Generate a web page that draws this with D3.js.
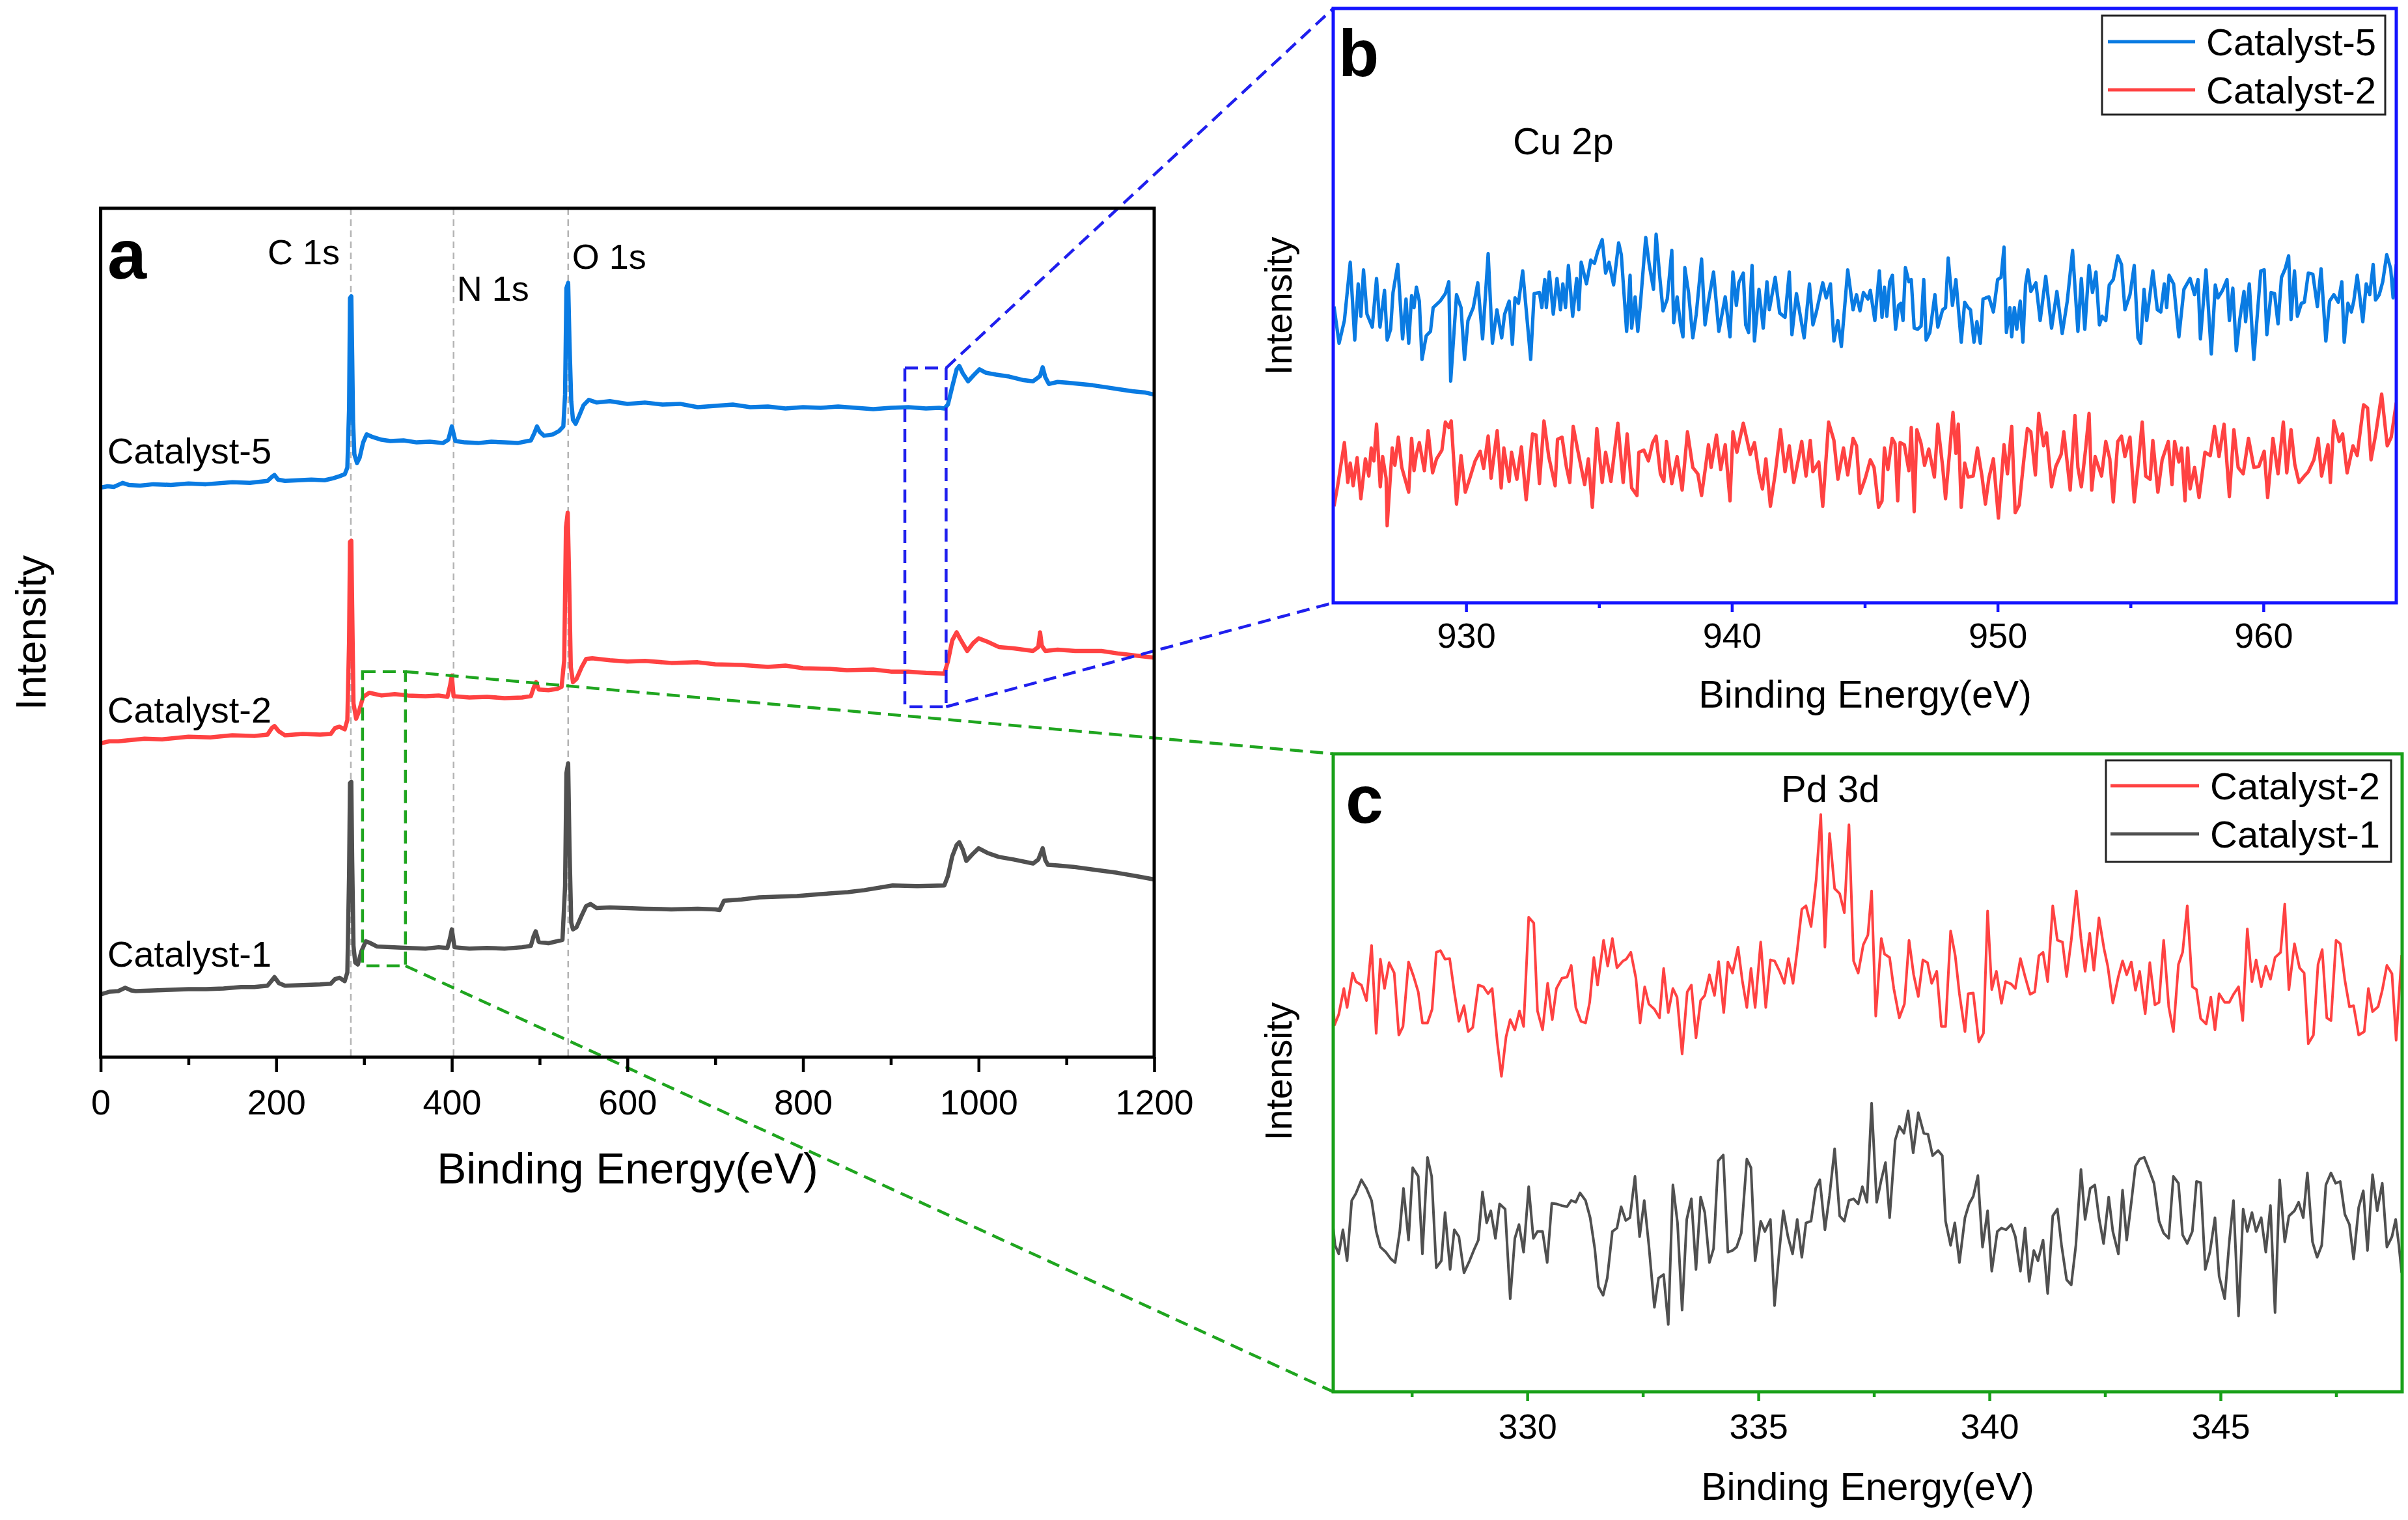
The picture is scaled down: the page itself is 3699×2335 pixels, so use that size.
<!DOCTYPE html>
<html><head><meta charset="utf-8">
<script src="https://cdn.jsdelivr.net/npm/d3@7"></script>
<style>html,body{margin:0;padding:0;background:#fff}svg{display:block}</style>
</head><body>
<svg id="fig" width="3699" height="2335"></svg>
<script>
// ---------------- DATA ----------------
const seriesNames = ["Catalyst-5", "Catalyst-2", "Catalyst-1"];
const surveyTicks = [0, 200, 400, 600, 800, 1000, 1200];
const surveyMinor = [100, 300, 500, 700, 900, 1100];
const cuTicks = [930, 940, 950, 960];
const cuMinor = [935, 945, 955];
const pdTicks = [330, 335, 340, 345];
const pdMinor = [327.5, 332.5, 337.5, 342.5, 347.5];
const peakEnergies = [285, 402, 532.5];
const peakNames = ["C 1s", "N 1s", "O 1s"];
const surveyRange = [0, 1200], surveyI = [702.5, 1980.4];
const cuRange = [925, 965], cuI = [173, 2925.6];
const pdRange = [325.8, 348.93], pdI = [285, 2136];
const cuWindowE = [916, 963], cuWindowI = [1230, 1740];
const pdWindowE = [298.3, 347.2], pdWindowI = [840, 1283];

// survey spectra [binding energy eV, intensity a.u.]
const cat5Survey = [[0,1560],[8,1562],[15,1561],[25,1567],[32,1564],[45,1563],[60,1565],[80,1564],[100,1566],[120,1565],[150,1568],[170,1567],[190,1570],[195,1576],[198,1579],[202,1572],[210,1570],[240,1572],[255,1571],[265,1574],[272,1577],[278,1580],[281,1590],[283,1680],[284,1845],[285.5,1848],[286.5,1760],[287.5,1660],[289,1610],[292,1597],[295,1605],[299,1628],[303,1640],[310,1636],[320,1632],[330,1630],[345,1631],[360,1628],[375,1629],[390,1627],[396,1632],[400,1652],[404,1630],[415,1628],[430,1627],[445,1629],[460,1628],[475,1627],[490,1631],[494,1642],[497,1652],[500,1644],[505,1638],[515,1640],[522,1645],[527,1652],[529,1700],[530.5,1860],[532.5,1868],[534,1780],[536,1690],[538,1662],[541,1656],[545,1668],[550,1684],[556,1692],[565,1688],[580,1690],[600,1686],[620,1688],[640,1685],[660,1686],[680,1681],[700,1683],[720,1685],[740,1681],[760,1682],[780,1679],[800,1681],[820,1680],[840,1682],[860,1680],[880,1678],[900,1680],[920,1681],[940,1679],[955,1680],[961,1679],[965,1685],[970,1712],[975,1738],[978,1743],[982,1732],[988,1720],[995,1730],[1001,1738],[1008,1733],[1020,1730],[1035,1727],[1050,1722],[1062,1720],[1070,1728],[1073,1741],[1076,1726],[1080,1716],[1090,1719],[1100,1718],[1115,1716],[1130,1714],[1145,1711],[1160,1708],[1175,1705],[1190,1703],[1200,1700]];
const cat2Survey = [[0,1175],[10,1178],[20,1178],[35,1180],[50,1182],[70,1181],[100,1185],[125,1184],[150,1187],[175,1186],[190,1188],[195,1198],[198,1201],[203,1193],[210,1187],[230,1189],[250,1188],[262,1189],[267,1198],[272,1200],[278,1196],[281,1210],[283,1330],[284,1478],[285.5,1480],[286.5,1380],[288,1235],[291,1212],[294,1222],[299,1245],[306,1251],[320,1247],[335,1249],[350,1247],[370,1246],[385,1247],[395,1245],[398,1262],[400,1277],[402,1246],[420,1244],[440,1245],[460,1243],[480,1244],[490,1246],[493,1258],[496,1267],[499,1256],[510,1255],[520,1257],[525,1260],[528,1300],[530,1500],[532,1522],[533.5,1430],[535.5,1290],[538,1267],[542,1272],[548,1290],[553,1302],[560,1303],[580,1300],[600,1298],[620,1299],[650,1296],[680,1297],[700,1294],[730,1293],[760,1290],[780,1292],[800,1288],[830,1287],[850,1285],[880,1286],[900,1283],[920,1283],[940,1281],[961,1280],[965,1298],[970,1330],[975,1342],[979,1332],[987,1314],[994,1326],[1000,1333],[1010,1328],[1023,1320],[1040,1318],[1062,1314],[1068,1320],[1070,1342],[1072,1322],[1076,1314],[1090,1316],[1110,1314],[1140,1314],[1160,1310],[1180,1307],[1200,1304]];
const cat1Survey = [[0,797],[10,801],[20,802],[28,807],[35,803],[40,802],[60,803],[80,804],[100,805],[120,805],[140,806],[160,808],[175,808],[190,810],[195,818],[198,823],[203,814],[210,810],[230,811],[250,812],[262,813],[267,820],[272,822],[278,817],[281,830],[283,980],[284,1115],[285.5,1117],[286.5,1000],[288,870],[290,845],[293,842],[297,862],[302,877],[306,875],[315,869],[330,868],[350,867],[370,866],[385,868],[395,867],[398,882],[400,895],[403,868],[420,866],[440,867],[460,866],[480,868],[490,870],[493,884],[495.5,892],[499,876],[510,874],[520,877],[526,879],[529,960],[530.5,1130],[532.5,1145],[534,1020],[536,905],[538,895],[542,898],[548,916],[553,930],[558,933],[565,927],[580,928],[600,927],[620,926],[650,925],[680,926],[700,925],[705,924],[710,938],[730,940],[750,943],[770,944],[793,945],[820,948],[851,951],[870,954],[902,961],[930,960],[961,961],[965,975],[970,1005],[975,1022],[978,1026],[982,1015],[986,998],[993,1008],[1000,1017],[1010,1010],[1023,1004],[1040,1000],[1062,994],[1068,1000],[1073,1017],[1076,999],[1079,992],[1090,991],[1108,989],[1130,985],[1158,980],[1180,975],[1200,970]];

// Cu 2p region
const cat5Cu = [[925.03,1545],[925.22,1375],[925.42,1480],[925.64,1750],[925.81,1390],[925.94,1650],[926.04,1500],[926.14,1715],[926.27,1510],[926.47,1450],[926.63,1675],[926.76,1450],[926.93,1620],[927.03,1390],[927.16,1440],[927.25,1610],[927.43,1740],[927.61,1395],[927.74,1580],[927.84,1375],[927.95,1595],[928.04,1540],[928.13,1635],[928.24,1570],[928.34,1300],[928.50,1410],[928.66,1430],[928.76,1540],[929.02,1570],[929.22,1605],[929.35,1660],[929.42,1200],[929.64,1600],[929.81,1540],[929.94,1300],[930.07,1480],[930.27,1540],[930.44,1655],[930.62,1395],[930.83,1790],[930.99,1375],[931.16,1530],[931.34,1400],[931.45,1510],[931.62,1570],[931.74,1370],[931.84,1585],[931.97,1560],[932.13,1710],[932.43,1300],[932.56,1605],[932.76,1610],[932.85,1540],[932.96,1670],[933.02,1540],[933.13,1705],[933.28,1510],[933.42,1675],[933.55,1530],[933.64,1650],[933.74,1540],[933.85,1735],[934.01,1500],[934.16,1675],[934.24,1530],[934.33,1750],[934.53,1650],[934.69,1760],[934.83,1745],[934.95,1800],[935.12,1855],[935.25,1700],[935.38,1750],[935.55,1645],[935.74,1840],[935.84,1785],[936.04,1430],[936.17,1690],[936.23,1445],[936.36,1590],[936.46,1430],[936.56,1560],[936.76,1865],[936.89,1740],[937.05,1625],[937.15,1880],[937.28,1690],[937.41,1525],[937.57,1580],[937.74,1805],[937.81,1470],[937.94,1590],[938.07,1460],[938.16,1405],[938.23,1725],[938.37,1610],[938.53,1400],[938.66,1510],[938.86,1765],[938.99,1460],[939.12,1570],[939.31,1705],[939.51,1430],[939.75,1590],[939.93,1405],[940.04,1705],[940.17,1550],[940.26,1655],[940.43,1700],[940.52,1460],[940.63,1425],[940.76,1735],[940.85,1385],[941.02,1625],[941.18,1445],[941.32,1660],[941.41,1530],[941.63,1680],[941.80,1515],[942.00,1495],[942.16,1705],[942.26,1415],[942.43,1605],[942.55,1520],[942.72,1400],[942.92,1650],[943.05,1460],[943.18,1520],[943.42,1655],[943.55,1585],[943.71,1650],[943.84,1385],[943.99,1480],[944.12,1360],[944.36,1715],[944.56,1530],[944.69,1600],[944.82,1525],[944.95,1610],[945.12,1580],[945.21,1620],[945.38,1480],[945.55,1710],[945.65,1495],[945.74,1635],[945.83,1500],[945.94,1660],[946.04,1690],[946.16,1440],[946.27,1550],[946.36,1560],[946.44,1480],[946.53,1725],[946.66,1660],[946.75,1670],[946.86,1445],[946.99,1440],[947.12,1455],[947.22,1670],[947.31,1390],[947.45,1425],[947.64,1600],[947.75,1450],[947.93,1530],[948.04,1540],[948.14,1770],[948.30,1550],[948.43,1670],[948.63,1380],[948.76,1565],[948.89,1540],[948.98,1530],[949.11,1380],[949.22,1475],[949.35,1375],[949.45,1580],[949.67,1590],[949.84,1520],[950.00,1670],[950.13,1680],[950.24,1820],[950.33,1425],[950.46,1540],[950.53,1405],[950.63,1540],[950.72,1440],[950.85,1570],[950.95,1380],[951.05,1645],[951.14,1715],[951.25,1615],[951.44,1655],[951.60,1480],[951.81,1685],[952.03,1445],[952.23,1615],[952.43,1420],[952.62,1570],[952.82,1805],[953.02,1430],[953.15,1675],[953.28,1440],[953.44,1735],[953.57,1610],[953.70,1705],[953.83,1460],[953.93,1500],[954.07,1480],[954.20,1645],[954.35,1670],[954.52,1780],[954.66,1740],[954.79,1530],[954.98,1600],[955.14,1735],[955.28,1400],[955.38,1375],[955.51,1625],[955.61,1480],[955.84,1710],[956.01,1530],[956.14,1520],[956.27,1650],[956.36,1540],[956.45,1690],[956.62,1650],[956.82,1405],[957.01,1625],[957.24,1675],[957.41,1600],[957.54,1670],[957.63,1395],[957.84,1715],[958.04,1325],[958.19,1645],[958.29,1585],[958.46,1620],[958.63,1670],[958.72,1480],[958.85,1630],[958.98,1340],[959.11,1485],[959.27,1615],[959.33,1475],[959.47,1650],[959.64,1300],[959.90,1710],[960.03,1715],[960.13,1415],[960.29,1610],[960.42,1605],[960.55,1465],[960.68,1680],[960.82,1720],[960.95,1780],[961.04,1485],[961.17,1710],[961.28,1500],[961.43,1560],[961.54,1565],[961.69,1700],[961.86,1695],[962.03,1545],[962.17,1720],[962.35,1385],[962.49,1570],[962.65,1600],[962.82,1565],[962.95,1660],[963.04,1380],[963.18,1560],[963.31,1520],[963.40,1570],[963.53,1690],[963.74,1475],[963.87,1650],[964.00,1600],[964.13,1740],[964.22,1575],[964.36,1600],[964.49,1660],[964.64,1785],[964.79,1720],[964.88,1585],[965.00,1740]];
const cat2Cu = [[925.03,620],[925.16,710],[925.42,915],[925.55,730],[925.64,820],[925.75,715],[925.90,845],[926.04,655],[926.21,840],[926.34,760],[926.43,890],[926.53,830],[926.63,1000],[926.77,710],[926.86,850],[926.99,750],[927.03,530],[927.22,890],[927.32,810],[927.45,940],[927.58,800],[927.84,685],[927.95,935],[928.04,785],[928.13,860],[928.24,915],[928.43,785],[928.57,970],[928.74,775],[928.89,840],[929.09,880],[929.22,1010],[929.35,985],[929.44,1015],[929.64,630],[929.81,855],[929.97,685],[930.14,750],[930.34,830],[930.53,875],[930.66,795],[930.83,945],[930.94,750],[931.17,970],[931.32,705],[931.42,890],[931.62,735],[931.71,870],[931.91,745],[932.08,895],[932.26,650],[932.50,955],[932.63,950],[932.76,725],[932.93,1015],[933.11,850],[933.35,715],[933.44,930],[933.61,940],[933.77,805],[933.90,730],[934.03,990],[934.20,880],[934.46,720],[934.60,840],[934.75,615],[934.92,980],[935.12,730],[935.25,870],[935.45,735],[935.71,1005],[935.91,730],[936.06,955],[936.23,705],[936.43,670],[936.50,870],[936.69,880],[936.86,830],[937.02,915],[937.15,945],[937.31,770],[937.44,735],[937.54,920],[937.74,725],[937.94,850],[938.13,695],[938.33,965],[938.53,800],[938.72,770],[938.86,670],[938.99,785],[939.12,905],[939.22,800],[939.42,950],[939.58,790],[939.75,905],[939.93,645],[940.04,965],[940.19,870],[940.43,1005],[940.69,860],[940.85,915],[941.02,770],[941.15,700],[941.28,840],[941.45,620],[941.63,770],[941.83,975],[942.00,780],[942.16,900],[942.33,730],[942.46,810],[942.63,920],[942.79,760],[942.95,925],[943.05,780],[943.27,825],[943.42,620],[943.64,1010],[943.84,925],[943.99,745],[944.20,890],[944.36,765],[944.56,935],[944.69,900],[944.82,680],[945.02,750],[945.21,835],[945.35,800],[945.52,615],[945.65,645],[945.74,890],[945.87,790],[946.03,935],[946.14,910],[946.24,645],[946.33,915],[946.49,905],[946.66,785],[946.75,985],[946.86,595],[946.96,975],[947.12,910],[947.25,810],[947.41,885],[947.62,755],[947.75,1000],[947.93,805],[948.04,655],[948.17,840],[948.32,1055],[948.43,865],[948.52,1000],[948.63,615],[948.76,820],[948.89,755],[949.08,760],[949.24,890],[949.41,760],[949.54,630],[949.67,750],[949.84,840],[950.03,565],[950.24,905],[950.37,770],[950.53,990],[950.66,590],[950.81,625],[950.99,840],[951.12,980],[951.25,965],[951.42,765],[951.55,1050],[951.73,900],[951.84,960],[952.03,710],[952.19,805],[952.39,860],[952.49,965],[952.73,695],[952.91,1040],[953.02,800],[953.15,710],[953.31,885],[953.44,1050],[953.54,695],[953.67,850],[953.91,760],[954.07,920],[954.22,840],[954.35,640],[954.52,920],[954.66,945],[954.79,850],[954.98,940],[955.14,640],[955.31,840],[955.44,1010],[955.57,760],[955.74,745],[955.84,925],[956.03,685],[956.19,835],[956.42,920],[956.56,720],[956.66,920],[956.82,825],[956.92,890],[957.05,645],[957.15,890],[957.24,700],[957.41,800],[957.58,660],[957.80,870],[958.00,855],[958.16,990],[958.33,850],[958.52,1000],[958.72,665],[958.89,975],[959.05,800],[959.24,770],[959.44,935],[959.64,800],[959.83,805],[960.03,875],[960.16,660],[960.36,935],[960.55,770],[960.75,1010],[960.88,775],[961.04,975],[961.18,815],[961.34,730],[961.54,760],[961.69,780],[961.90,835],[962.06,935],[962.19,760],[962.43,905],[962.52,730],[962.65,1015],[962.85,920],[962.98,955],[963.15,775],[963.37,900],[963.53,855],[963.77,1090],[963.92,1075],[964.05,835],[964.22,950],[964.45,1140],[964.66,900],[964.81,940],[965.00,1100]];

// Pd 3d region
const cat2Pd = [[325.80,1400],[325.83,1350],[325.92,1380],[326.03,1455],[326.10,1400],[326.22,1500],[326.29,1475],[326.41,1465],[326.52,1420],[326.63,1580],[326.73,1325],[326.82,1540],[326.91,1455],[327.01,1530],[327.12,1500],[327.22,1320],[327.31,1345],[327.43,1532],[327.54,1490],[327.64,1445],[327.73,1355],[327.84,1355],[327.94,1395],[328.03,1560],[328.12,1565],[328.22,1540],[328.32,1542],[328.42,1445],[328.52,1360],[328.63,1405],[328.72,1330],[328.82,1342],[328.94,1465],[329.05,1460],[329.15,1440],[329.24,1455],[329.35,1300],[329.44,1200],[329.54,1315],[329.63,1365],[329.73,1335],[329.83,1390],[329.92,1345],[330.03,1662],[330.14,1645],[330.22,1390],[330.33,1335],[330.44,1470],[330.54,1365],[330.63,1455],[330.75,1485],[330.86,1488],[330.95,1522],[331.05,1400],[331.16,1360],[331.26,1355],[331.35,1415],[331.44,1545],[331.52,1465],[331.65,1595],[331.74,1520],[331.84,1600],[331.94,1515],[332.07,1535],[332.14,1540],[332.24,1560],[332.35,1485],[332.44,1355],[332.54,1460],[332.63,1410],[332.75,1395],[332.86,1370],[332.95,1513],[333.05,1385],[333.15,1455],[333.24,1430],[333.35,1265],[333.46,1445],[333.55,1465],[333.65,1312],[333.75,1420],[333.84,1435],[333.94,1495],[334.05,1435],[334.14,1533],[334.25,1385],[334.34,1532],[334.44,1500],[334.56,1575],[334.65,1480],[334.75,1400],[334.84,1513],[334.93,1400],[335.05,1590],[335.16,1400],[335.26,1538],[335.35,1535],[335.46,1505],[335.56,1470],[335.65,1542],[335.75,1470],[335.84,1565],[335.94,1685],[336.03,1695],[336.14,1635],[336.25,1770],[336.35,1960],[336.44,1575],[336.54,1905],[336.65,1745],[336.76,1730],[336.86,1675],[336.96,1930],[337.06,1535],[337.16,1500],[337.27,1582],[337.37,1610],[337.45,1738],[337.54,1375],[337.66,1600],[337.73,1555],[337.84,1545],[337.93,1455],[338.05,1370],[338.16,1410],[338.26,1595],[338.36,1495],[338.46,1432],[338.56,1538],[338.66,1530],[338.75,1470],[338.86,1505],[338.96,1345],[339.05,1345],[339.16,1622],[339.26,1550],[339.35,1440],[339.47,1330],[339.54,1440],[339.65,1442],[339.77,1300],[339.87,1325],[339.96,1680],[340.05,1452],[340.15,1505],[340.26,1412],[340.35,1475],[340.47,1468],[340.56,1455],[340.67,1542],[340.77,1490],[340.88,1438],[340.98,1445],[341.07,1550],[341.16,1560],[341.26,1475],[341.37,1695],[341.47,1595],[341.58,1590],[341.67,1490],[341.77,1595],[341.88,1738],[341.98,1600],[342.07,1505],[342.17,1615],[342.26,1508],[342.37,1660],[342.48,1570],[342.56,1520],[342.67,1413],[342.79,1490],[342.88,1535],[342.97,1495],[343.07,1532],[343.16,1450],[343.25,1505],[343.37,1382],[343.47,1530],[343.58,1408],[343.67,1415],[343.77,1595],[343.88,1402],[343.98,1330],[344.09,1525],[344.18,1560],[344.28,1695],[344.39,1460],[344.48,1452],[344.57,1368],[344.69,1352],[344.79,1430],[344.88,1335],[344.97,1440],[345.09,1415],[345.19,1415],[345.28,1438],[345.39,1460],[345.48,1362],[345.58,1628],[345.68,1475],[345.77,1538],[345.88,1460],[345.98,1520],[346.08,1482],[346.18,1545],[346.30,1560],[346.39,1700],[346.48,1452],[346.60,1585],[346.71,1515],[346.81,1500],[346.90,1295],[347.01,1320],[347.11,1525],[347.20,1568],[347.30,1370],[347.39,1362],[347.50,1595],[347.59,1585],[347.69,1480],[347.79,1402],[347.88,1405],[347.99,1320],[348.11,1330],[348.20,1455],[348.29,1388],[348.41,1402],[348.50,1450],[348.60,1522],[348.71,1498],[348.80,1305],[348.92,1552]];
const cat1Pd = [[325.80,760],[325.84,710],[325.92,685],[326.01,755],[326.10,665],[326.20,840],[326.29,860],[326.41,900],[326.52,875],[326.63,840],[326.73,750],[326.82,705],[326.94,690],[327.05,670],[327.14,660],[327.24,750],[327.32,875],[327.43,725],[327.52,935],[327.64,910],[327.73,685],[327.84,965],[327.93,910],[328.03,645],[328.14,665],[328.22,805],[328.33,640],[328.42,755],[328.52,735],[328.63,630],[328.75,665],[328.84,695],[328.94,725],[329.03,865],[329.12,775],[329.21,810],[329.31,730],[329.40,830],[329.52,815],[329.63,555],[329.73,730],[329.82,770],[329.92,690],[330.03,880],[330.13,730],[330.22,750],[330.33,750],[330.43,660],[330.53,832],[330.63,830],[330.75,825],[330.86,822],[330.95,840],[331.05,835],[331.14,862],[331.26,840],[331.36,790],[331.46,700],[331.54,590],[331.64,565],[331.73,615],[331.84,750],[331.94,760],[332.03,822],[332.13,782],[332.22,790],[332.33,910],[332.43,735],[332.53,840],[332.63,710],[332.75,530],[332.84,615],[332.95,625],[333.05,480],[333.15,885],[333.25,775],[333.35,522],[333.45,785],[333.55,845],[333.65,640],[333.75,850],[333.84,805],[333.94,660],[334.03,700],[334.13,955],[334.24,972],[334.34,690],[334.44,695],[334.53,705],[334.63,745],[334.75,960],[334.84,935],[334.93,665],[335.05,780],[335.14,750],[335.26,785],[335.35,535],[335.45,690],[335.54,810],[335.64,735],[335.74,685],[335.84,785],[335.94,675],[336.03,775],[336.14,780],[336.24,875],[336.33,900],[336.44,755],[336.54,855],[336.65,990],[336.76,795],[336.86,780],[336.96,840],[337.06,845],[337.16,830],[337.25,880],[337.35,835],[337.45,1122],[337.56,835],[337.66,900],[337.75,950],[337.84,790],[337.96,1015],[338.05,1055],[338.15,1035],[338.24,1100],[338.35,978],[338.46,1095],[338.58,1035],[338.67,1032],[338.77,970],[338.89,985],[338.98,970],[339.05,780],[339.16,710],[339.25,775],[339.35,660],[339.47,790],[339.56,830],[339.65,852],[339.75,912],[339.85,705],[339.96,810],[340.05,635],[340.17,750],[340.26,760],[340.36,755],[340.47,770],[340.56,735],[340.67,635],[340.77,760],[340.86,605],[340.96,695],[341.05,665],[341.16,725],[341.26,570],[341.37,795],[341.47,815],[341.56,710],[341.67,610],[341.77,595],[341.87,710],[341.98,930],[342.07,785],[342.18,875],[342.28,885],[342.37,790],[342.47,715],[342.58,850],[342.67,750],[342.79,685],[342.88,870],[342.97,725],[343.07,835],[343.16,940],[343.25,960],[343.35,965],[343.45,930],[343.56,890],[343.67,780],[343.77,745],[343.88,730],[343.98,910],[344.09,890],[344.18,740],[344.28,715],[344.39,750],[344.48,895],[344.57,892],[344.67,640],[344.77,690],[344.88,790],[344.97,620],[345.09,555],[345.19,720],[345.28,840],[345.39,505],[345.49,815],[345.58,750],[345.68,805],[345.77,750],[345.88,790],[345.98,690],[346.08,825],[346.18,515],[346.28,900],[346.39,720],[346.48,795],[346.60,810],[346.69,835],[346.79,790],[346.88,920],[346.99,720],[347.09,675],[347.19,710],[347.28,885],[347.39,920],[347.49,890],[347.59,895],[347.69,800],[347.79,770],[347.88,670],[347.99,820],[348.09,868],[348.18,695],[348.29,915],[348.39,810],[348.50,890],[348.60,705],[348.71,735],[348.79,785],[348.86,710],[348.92,630]];

// ---------------- DRAWING ----------------
const FONT = "'Liberation Sans', Arial, Helvetica, sans-serif";
const C_BLUE = "#0a7be2", C_RED = "#ff4242", C_GRAY = "#505050";
const FRAME_B = "#1414ff", FRAME_C = "#19a019";
const svg = d3.select("#fig");
svg.append("rect").attr("width", 3699).attr("height", 2335).attr("fill", "#fff");

function bottomAxis(x, y0, major, minor, majorLen, minorLen, pad, color, fmt) {
  svg.append("g").attr("transform", `translate(0,${y0})`)
    .call(d3.axisBottom(x).tickValues(minor).tickSize(minorLen).tickFormat(""))
    .call(g => { g.select(".domain").remove(); g.selectAll("line").attr("stroke", color).attr("stroke-width", 4.5); });
  svg.append("g").attr("transform", `translate(0,${y0})`)
    .call(d3.axisBottom(x).tickValues(major).tickSize(majorLen).tickPadding(pad).tickFormat(fmt))
    .call(g => {
      g.select(".domain").remove();
      g.selectAll("line").attr("stroke", color).attr("stroke-width", 4.5);
      g.selectAll("text").attr("font-size", 54).attr("font-family", FONT).attr("fill", "#000");
    });
}
function txt(x, y, s, size, opts = {}) {
  const t = svg.append("text").attr("x", x).attr("y", y).text(s)
    .attr("font-family", FONT).attr("font-size", size).attr("fill", opts.fill || "#000");
  if (opts.anchor) t.attr("text-anchor", opts.anchor);
  if (opts.weight) t.attr("font-weight", opts.weight);
  if (opts.dy) t.attr("dy", opts.dy);
  if (opts.rotate) t.attr("transform", `rotate(-90,${x},${y})`);
  return t;
}

// ===== Panel a =====
const ax = d3.scaleLinear().domain(surveyRange).range([154.6, 1773]);
const ay = d3.scaleLinear().domain(surveyI).range([1624, 320]);
const aLine = d3.line().x(d => ax(d[0])).y(d => ay(d[1]));

svg.append("g").selectAll("line").data(peakEnergies).join("line")
  .attr("x1", d => ax(d)).attr("x2", d => ax(d)).attr("y1", ay(surveyI[1])).attr("y2", ay(surveyI[0]))
  .attr("stroke", "#b4b4b4").attr("stroke-width", 2.5).attr("stroke-dasharray", "10,7");

const surveys = [cat5Survey, cat2Survey, cat1Survey];
const colors = [C_BLUE, C_RED, C_GRAY];
surveys.forEach((s, i) => {
  svg.append("path").datum(s).attr("d", aLine).attr("fill", "none")
    .attr("stroke", colors[i]).attr("stroke-width", 6.5).attr("stroke-linejoin", "round");
});

const bBox = { x0: 2048, x1: 3681, y0: 13, y1: 926 };
const cBox = { x0: 2048, x1: 3690, y0: 1158, y1: 2138 };
function windowRect(e, I, color) {
  svg.append("rect").attr("x", ax(e[0])).attr("y", ay(I[1]))
    .attr("width", ax(e[1]) - ax(e[0])).attr("height", ay(I[0]) - ay(I[1]))
    .attr("fill", "none").attr("stroke", color).attr("stroke-width", 4.5).attr("stroke-dasharray", "20,11");
}
function connector(x1, y1, x2, y2, color) {
  svg.append("line").attr("x1", x1).attr("y1", y1).attr("x2", x2).attr("y2", y2)
    .attr("stroke", color).attr("stroke-width", 4.5).attr("stroke-dasharray", "20,11");
}
windowRect(cuWindowE, cuWindowI, "#1f1fee");
windowRect(pdWindowE, pdWindowI, "#1fa51f");
connector(ax(cuWindowE[1]), ay(cuWindowI[1]), bBox.x0, bBox.y0, "#1f1fee");
connector(ax(cuWindowE[1]), ay(cuWindowI[0]), bBox.x0, bBox.y1, "#1f1fee");
connector(ax(pdWindowE[1]), ay(pdWindowI[1]), cBox.x0, cBox.y0, "#1fa51f");
connector(ax(pdWindowE[1]), ay(pdWindowI[0]), cBox.x0, cBox.y1, "#1fa51f");

svg.append("rect").attr("x", 154.6).attr("y", 320).attr("width", 1773 - 154.6).attr("height", 1624 - 320)
  .attr("fill", "none").attr("stroke", "#000").attr("stroke-width", 5);
bottomAxis(ax, 1624, surveyTicks, surveyMinor, 23, 12, 27, "#000", d3.format("d"));

txt(165, 428, "a", 108, { weight: "bold" });
txt(ax(peakEnergies[0]) - 17, 406, peakNames[0], 54, { anchor: "end" });
txt(ax(peakEnergies[1]) + 5, 462, peakNames[1], 54);
txt(ax(peakEnergies[2]) + 6, 413, peakNames[2], 54);
[712, 1110, 1485].forEach((y, i) => txt(165, y, seriesNames[i], 56));
txt(964, 1818, "Binding Energy(eV)", 67.5, { anchor: "middle" });
txt(70, 972, "Intensity", 64, { anchor: "middle", rotate: true });

// ===== Panel b =====
const bx = d3.scaleLinear().domain(cuRange).range([bBox.x0, bBox.x1]);
const by = d3.scaleLinear().domain(cuI).range([bBox.y1, bBox.y0]);
const bLine = d3.line().x(d => bx(d[0])).y(d => by(d[1]));
svg.append("clipPath").attr("id", "clipB").append("rect")
  .attr("x", bBox.x0).attr("y", bBox.y0).attr("width", bBox.x1 - bBox.x0).attr("height", bBox.y1 - bBox.y0);
[[cat5Cu, C_BLUE], [cat2Cu, C_RED]].forEach(([s, c]) => {
  svg.append("path").datum(s).attr("d", bLine).attr("fill", "none").attr("clip-path", "url(#clipB)")
    .attr("stroke", c).attr("stroke-width", 5.2).attr("stroke-linejoin", "round");
});
svg.append("rect").attr("x", bBox.x0).attr("y", bBox.y0).attr("width", bBox.x1 - bBox.x0).attr("height", bBox.y1 - bBox.y0)
  .attr("fill", "none").attr("stroke", FRAME_B).attr("stroke-width", 5);
bottomAxis(bx, bBox.y1, cuTicks, cuMinor, 14, 8, 17, FRAME_B, d3.format("d"));
txt(2056, 117, "b", 102, { weight: "bold" });
txt(2324, 216, "Cu 2p", 58, { dy: "0.36em" });
txt(2865, 1087, "Binding Energy(eV)", 59, { anchor: "middle" });
txt(1984, 470, "Intensity", 57, { anchor: "middle", rotate: true });
svg.append("rect").attr("x", 3229).attr("y", 24).attr("width", 435).attr("height", 152)
  .attr("fill", "#fff").attr("stroke", "#222").attr("stroke-width", 3);
[[seriesNames[0], C_BLUE, 64], [seriesNames[1], C_RED, 138]].forEach(([n, c, y]) => {
  svg.append("line").attr("x1", 3238).attr("x2", 3372).attr("y1", y).attr("y2", y).attr("stroke", c).attr("stroke-width", 5);
  txt(3389, y, n, 58, { dy: "0.36em" });
});

// ===== Panel c =====
const cx = d3.scaleLinear().domain(pdRange).range([cBox.x0, cBox.x1]);
const cy = d3.scaleLinear().domain(pdI).range([cBox.y1, cBox.y0]);
const cLine = d3.line().x(d => cx(d[0])).y(d => cy(d[1]));
svg.append("clipPath").attr("id", "clipC").append("rect")
  .attr("x", cBox.x0).attr("y", cBox.y0).attr("width", cBox.x1 - cBox.x0).attr("height", cBox.y1 - cBox.y0);
[[cat2Pd, C_RED], [cat1Pd, C_GRAY]].forEach(([s, c]) => {
  svg.append("path").datum(s).attr("d", cLine).attr("fill", "none").attr("clip-path", "url(#clipC)")
    .attr("stroke", c).attr("stroke-width", 4).attr("stroke-linejoin", "round");
});
svg.append("rect").attr("x", cBox.x0).attr("y", cBox.y0).attr("width", cBox.x1 - cBox.x0).attr("height", cBox.y1 - cBox.y0)
  .attr("fill", "none").attr("stroke", FRAME_C).attr("stroke-width", 5);
bottomAxis(cx, cBox.y1, pdTicks, pdMinor, 14, 8, 20, FRAME_C, d3.format("d"));
txt(2067, 1264, "c", 104, { weight: "bold" });
txt(2736, 1211, "Pd 3d", 58, { dy: "0.36em" });
txt(2869, 2304, "Binding Energy(eV)", 59, { anchor: "middle" });
txt(1984, 1646, "Intensity", 57, { anchor: "middle", rotate: true });
svg.append("rect").attr("x", 3235).attr("y", 1168).attr("width", 438).attr("height", 156)
  .attr("fill", "#fff").attr("stroke", "#222").attr("stroke-width", 3);
[[seriesNames[1], C_RED, 1207], [seriesNames[2], C_GRAY, 1281]].forEach(([n, c, y]) => {
  svg.append("line").attr("x1", 3242).attr("x2", 3378).attr("y1", y).attr("y2", y).attr("stroke", c).attr("stroke-width", 5);
  txt(3395, y, n, 58, { dy: "0.36em" });
});
</script>
</body></html>
